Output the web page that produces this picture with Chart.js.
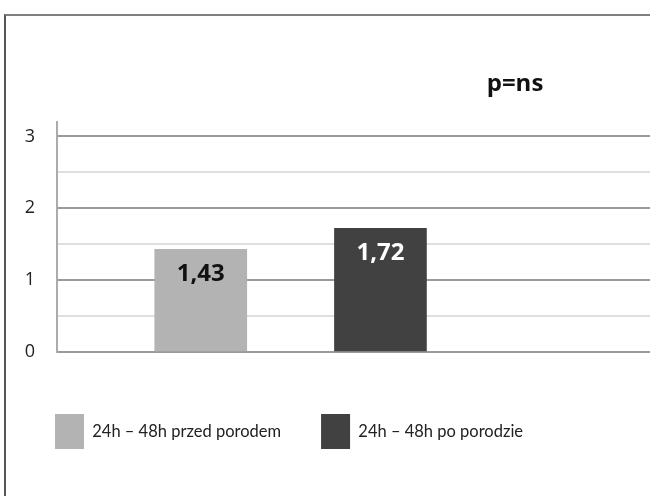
<!DOCTYPE html>
<html>
<head>
<meta charset="utf-8">
<script src="https://cdn.jsdelivr.net/npm/chart.js@4.4.1/dist/chart.umd.min.js"></script>
<style>
  html, body { margin: 0; padding: 0; background: #fff; overflow: hidden; }
  #frame {
    position: absolute; left: 4px; top: 14px; width: 700px; height: 600px;
    border-top: 2px solid #808080; border-left: 2px solid #555;
  }
  #wrap { position: absolute; left: 0; top: 0; width: 650px; height: 496px; }
</style>
</head>
<body>
<div id="frame"></div>
<div id="wrap"><canvas id="myChart"></canvas></div>
<script>
// Groups and mean values
const groups = ['24h – 48h przed porodem', '24h – 48h po porodzie'];
const means = [1.43, 1.72];
const yTicks = [0, 1, 2, 3];
const pValueNote = 'p=ns';

const barColors = ['#b3b3b3', '#414141'];
const labelColors = ['#111', '#fff'];

// Bold value written inside the top of each bar
const valueLabels = {
    id: 'valueLabels',
    afterDatasetsDraw(chart) {
        const ctx = chart.ctx;
        ctx.save();
        ctx.font = 'bold 24px "Open Sans"';
        ctx.textAlign = 'center';
        ctx.textBaseline = 'middle';
        chart.data.datasets.forEach((ds, i) => {
            const bar = chart.getDatasetMeta(i).data[0];
            ctx.fillStyle = labelColors[i];
            ctx.fillText(means[i].toFixed(2).replace('.', ','), bar.x, bar.y + 25);
        });
        ctx.restore();
    }
};

// Significance note in the upper right
const pNote = {
    id: 'pNote',
    afterDraw(chart) {
        const ctx = chart.ctx;
        ctx.save();
        ctx.font = 'bold 24px "Open Sans"';
        ctx.fillStyle = '#111';
        ctx.textAlign = 'center';
        ctx.textBaseline = 'alphabetic';
        ctx.fillText(pValueNote, 515, 91);
        ctx.restore();
    }
};

const ctx = document.getElementById('myChart').getContext('2d');

const myChart = new Chart(ctx, {
    type: 'bar',
    data: {
        datasets: groups.map((g, i) => ({
            label: g,
            data: [{ x: i + 1, y: means[i] }],
            backgroundColor: barColors[i],
            borderWidth: 0,
            barThickness: 92,
            grouped: false
        }))
    },
    options: {
        responsive: true,
        maintainAspectRatio: false,
        animation: false,
        layout: {
            padding: { top: 122, left: 15, right: 0, bottom: 37 }
        },
        plugins: {
            legend: {
                position: 'bottom',
                align: 'start',
                labels: {
                    boxWidth: 29,
                    boxHeight: 35,
                    padding: 40,
                    color: '#222',
                    font: { family: 'Lato', size: 16.5 }
                }
            },
            tooltip: { enabled: false }
        },
        scales: {
            x: {
                type: 'linear',
                offset: false,
                min: 0.2,
                max: 3.5,
                ticks: { display: false },
                grid: { display: false },
                border: { color: '#9a9a9a', width: 2 },
                afterFit: s => { s.height = 22; }
            },
            y: {
                min: 0,
                max: 3.2,
                ticks: {
                    stepSize: 0.5,
                    includeBounds: false,
                    padding: 22,
                    color: '#222',
                    font: { family: '"Open Sans"', size: 18 },
                    callback: v => yTicks.includes(v) ? String(v) : ''
                },
                grid: {
                    drawTicks: false,
                    lineWidth: 2,
                    color: c => Number.isInteger(c.tick.value) ? '#9a9a9a' : '#dedede'
                },
                border: { color: '#ababab', width: 2 },
                afterFit: s => { s.width = 42; }
            }
        }
    },
    plugins: [valueLabels, pNote]
});
</script>
</body>
</html>
